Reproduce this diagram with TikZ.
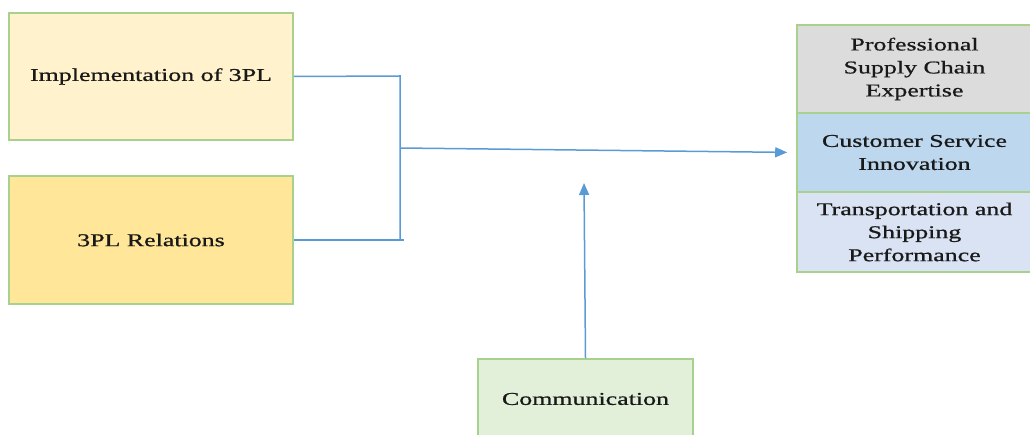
\documentclass[tikz,border=0pt]{standalone}
\usepackage{fontspec}
\setmainfont[FakeStretch=1.44,FakeBold=0.8]{Liberation Serif}
\usetikzlibrary{arrows.meta}
\definecolor{boxline}{HTML}{A9D18E}
\definecolor{conn}{HTML}{5B9BD5}
\definecolor{implfill}{HTML}{FFF2CC}
\definecolor{relfill}{HTML}{FFE699}
\definecolor{greyfill}{HTML}{DCDCDC}
\definecolor{bluefill}{HTML}{BDD7EE}
\definecolor{lightfill}{HTML}{DAE3F3}
\definecolor{commfill}{HTML}{E2F0D9}
\tikzset{
  box/.style={draw=boxline, line width=1.6pt, inner sep=0pt, align=center,
    font=\fontsize{18}{23}\selectfont, text=black!90},
  link/.style={draw=conn, line width=1.5pt},
  arr/.style={link, -{Triangle[length=12pt,width=10pt]}}
}
\begin{document}
\begin{tikzpicture}[x=1pt,y=-1pt]
\useasboundingbox (0,0) rectangle (1030,435);
\node[box, fill=implfill, minimum width=284pt, minimum height=127pt] (impl) at (151,76.5) {Implementation of 3PL};
\node[box, fill=relfill, minimum width=284pt, minimum height=128pt] (rel) at (151,240) {3PL Relations};
\node[box, fill=greyfill, minimum width=235pt, minimum height=88pt] (pse) at (914.5,69) {Professional\\Supply Chain\\Expertise};
\node[box, fill=bluefill, minimum width=235pt, minimum height=79pt] (csi) at (914.5,152.5) {Customer Service\\Innovation};
\node[box, fill=lightfill, minimum width=235pt, minimum height=80pt] (tsp) at (914.5,232) {Transportation and\\Shipping\\Performance};
\node[box, fill=commfill, minimum width=215pt, minimum height=80pt] (comm) at (585.5,399) {Communication};
\coordinate (top) at (400,76);
\coordinate (bot) at (400,240);
\coordinate (join) at (400,148);
\coordinate (ctip) at (584,183);
\draw[link] (impl.east) -- (top) -- (bot);
\draw[link] (rel.east) -- (404,240);
\draw[arr, shorten >=9pt] (join) -- (csi.west);
\draw[arr] (comm.north) -- (ctip);
\end{tikzpicture}
\end{document}
